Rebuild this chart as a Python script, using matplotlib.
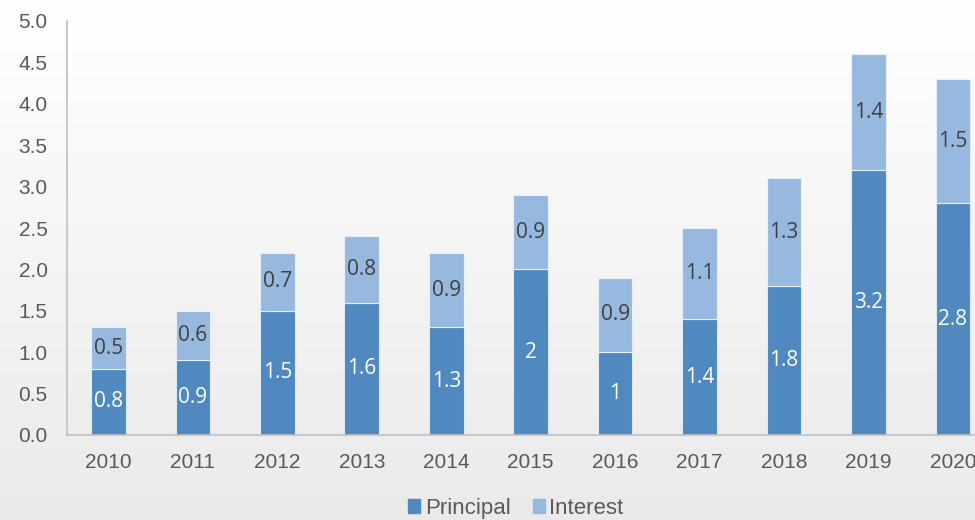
import matplotlib
matplotlib.use("Agg")
import matplotlib.pyplot as plt
import numpy as np
from matplotlib.patches import Patch

years = ["2010", "2011", "2012", "2013", "2014", "2015", "2016", "2017", "2018", "2019", "2020"]
principal = [0.8, 0.9, 1.5, 1.6, 1.3, 2.0, 1.0, 1.4, 1.8, 3.2, 2.8]
interest = [0.5, 0.6, 0.7, 0.8, 0.9, 0.9, 0.9, 1.1, 1.3, 1.4, 1.5]
principal_labels = ["0.8", "0.9", "1.5", "1.6", "1.3", "2", "1", "1.4", "1.8", "3.2", "2.8"]
interest_labels = ["0.5", "0.6", "0.7", "0.8", "0.9", "0.9", "0.9", "1.1", "1.3", "1.4", "1.5"]

plt.rcParams['font.family'] = ['Liberation Sans', 'DejaVu Sans']

c_p = "#4F89BF"
c_i = "#97B9DF"
tcol = "#595959"

fig = plt.figure(figsize=(9.75, 5.2), dpi=100)
# gradient background
bg = fig.add_axes([0, 0, 1, 1], zorder=-10)
grad = np.linspace(1.0, 0.0, 256).reshape(-1, 1)
top = np.array([1.0, 1.0, 1.0])
bot = np.array([0.918, 0.918, 0.918])
img = grad[..., None] * top + (1 - grad[..., None]) * bot
bg.imshow(img, aspect='auto', extent=[0, 1, 0, 1], origin='upper')
bg.axis('off')

ax = fig.add_axes([67/975, 85/520, 1 - 67/975, (435-21)/520])
ax.patch.set_alpha(0)
x = np.arange(len(years))
w = 0.41
ax.bar(x, principal, w, color=c_p, edgecolor="#dfe9f3", linewidth=0.8, zorder=2)
ax.bar(x, interest, w, bottom=principal, color=c_i, edgecolor="#e8eff7", linewidth=0.8, zorder=2)

for xi, p, i, pl, il in zip(x, principal, interest, principal_labels, interest_labels):
    ax.text(xi, p/2, pl, ha='center', va='center', color='white', fontsize=15,
            family=['Open Sans', 'DejaVu Sans'], zorder=3)
    ax.text(xi, p + i/2, il, ha='center', va='center', color='#404040', fontsize=15,
            family=['Open Sans', 'DejaVu Sans'], zorder=3)

ax.set_xlim(-0.49, 10.26)
ax.set_ylim(0, 5.0)
ax.set_yticks(np.arange(0, 5.01, 0.5))
ax.set_yticklabels([f"{v:.1f}" for v in np.arange(0, 5.01, 0.5)])
ax.set_xticks(x)
ax.set_xticklabels(years)
ax.tick_params(axis='both', length=0, labelsize=15, colors=tcol)
ax.tick_params(axis='x', pad=13)
ax.tick_params(axis='y', pad=14)
for s in ['top', 'right']:
    ax.spines[s].set_visible(False)
for s in ['left', 'bottom']:
    ax.spines[s].set_color('#c0c0c0')
    ax.spines[s].set_linewidth(1.2)

handles = [Patch(color=c_p, label='Principal'), Patch(color=c_i, label='Interest')]
fig.legend(handles=handles, loc='lower center', bbox_to_anchor=(0.529, -0.036), ncol=2,
           frameon=False, fontsize=16, labelcolor=tcol, handlelength=0.55, handleheight=0.55,
           handletextpad=0.2, columnspacing=1.0)

fig.savefig("out.png", dpi=100)
